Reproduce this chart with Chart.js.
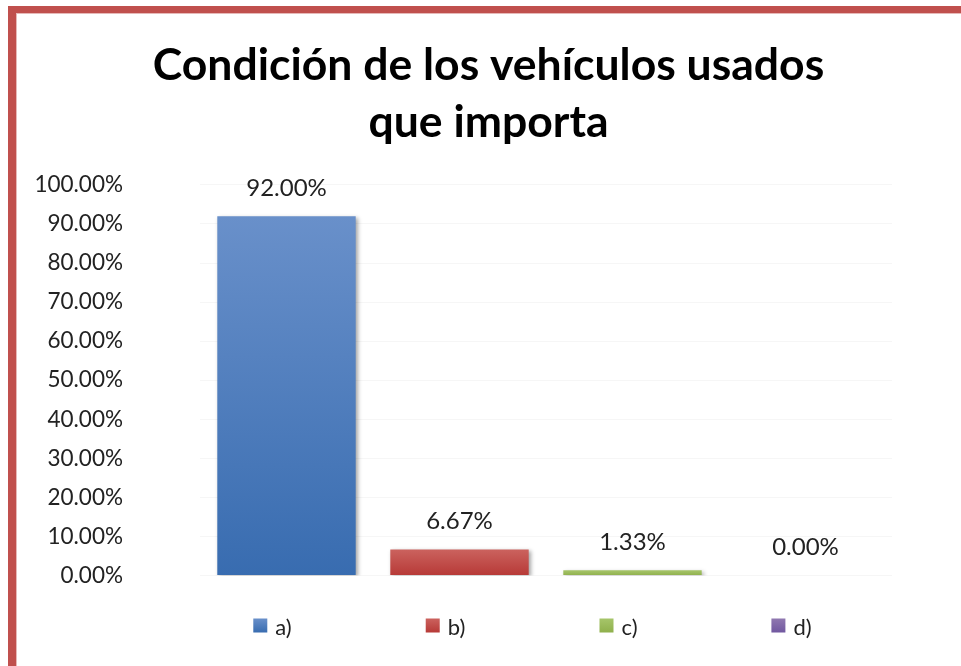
<!DOCTYPE html>
<html>
<head>
<meta charset="utf-8">
<script src="https://cdn.jsdelivr.net/npm/chart.js@4.4.1/dist/chart.umd.min.js"></script>
<style>
  html, body { margin: 0; padding: 0; background: #fff; overflow: hidden; }
  #marco {
    position: absolute; left: 8px; top: 6px; width: 1000px; height: 700px;
    border-left: 8px solid #c0504d; border-top: 7px solid #c0504d;
    box-shadow: inset 1px 1px 0 #e6b9b8;
  }
  #caja { position: absolute; left: 0; top: 0; width: 961px; height: 666px; }
</style>
</head>
<body>
<div id="marco"></div>
<div id="caja"><canvas id="graf" width="961" height="666"></canvas></div>
<script>
// Datos del gráfico
const categorias = ['a)', 'b)', 'c)', 'd)']
const porcentajes = [92.00, 6.67, 1.33, 0.00]
const ticksY = [0, 10, 20, 30, 40, 50, 60, 70, 80, 90, 100]

// colores (arriba, abajo) de cada barra
const coloresArriba = ['#6990ca', '#cb625e', '#a6c56a', '#9078b0']
const coloresAbajo = ['#386cb0', '#b73a37', '#8fb04c', '#7158a0']

const fuente = 'Lato, "Liberation Sans", sans-serif'
const colorTexto = '#222'

let ctx = document.getElementById('graf').getContext('2d')

function degradado(context) {
  const chart = context.chart
  const i = context.dataIndex
  if (!chart.chartArea || !chart.scales.y) return coloresAbajo[i]
  const y0 = chart.scales.y.getPixelForValue(porcentajes[i])
  const y1 = chart.scales.y.getPixelForValue(0)
  if (y1 - y0 < 1) return coloresAbajo[i]
  const g = chart.ctx.createLinearGradient(0, y0, 0, y1)
  g.addColorStop(0, coloresArriba[i])
  g.addColorStop(1, coloresAbajo[i])
  return g
}

// el título va un poco a la derecha, como en el original
const moverTitulo = {
  id: 'moverTitulo',
  afterLayout(chart) {
    if (chart.titleBlock) {
      chart.titleBlock.left += 60
    }
  }
}

// sombra de las barras
const sombra = {
  id: 'sombra',
  beforeDatasetsDraw(chart) {
    const c = chart.ctx
    c.save()
    c.shadowColor = 'rgba(0,0,0,0.35)'
    c.shadowBlur = 4
    c.shadowOffsetX = 2
    c.shadowOffsetY = 2
  },
  afterDatasetsDraw(chart) {
    chart.ctx.restore()
  }
}

// etiquetas de valor sobre las barras
const etiquetas = {
  id: 'etiquetas',
  afterDatasetsDraw(chart) {
    const c = chart.ctx
    const meta = chart.getDatasetMeta(0)
    c.save()
    c.font = '24px ' + fuente
    c.fillStyle = colorTexto
    c.textAlign = 'center'
    c.textBaseline = 'middle'
    meta.data.forEach((bar, i) => {
      c.fillText(porcentajes[i].toFixed(2) + '%', bar.x, bar.y - 28)
    })
    c.restore()
  }
}

// cuadros de color de la leyenda junto a las etiquetas del eje x
const cuadros = {
  id: 'cuadros',
  afterDraw(chart) {
    const c = chart.ctx
    const x = chart.scales.x
    c.save()
    c.font = '22px ' + fuente
    const yc = chart.chartArea.bottom + 39 + 11
    categorias.forEach((cat, i) => {
      const cx = x.getPixelForTick(i) - 3
      const w = c.measureText(cat).width
      const izq = cx - w / 2 - 8 - 14
      const g = c.createLinearGradient(0, yc - 7, 0, yc + 7)
      g.addColorStop(0, coloresArriba[i])
      g.addColorStop(1, coloresAbajo[i])
      c.fillStyle = g
      c.fillRect(izq, yc - 7, 14, 14)
    })
    c.restore()
  }
}

const config = {
  type: 'bar',
  data: {
    labels: categorias,
    datasets: [{
      label: 'Condición',
      data: porcentajes,
      backgroundColor: degradado,
      borderWidth: 0,
      barPercentage: 0.8,
      categoryPercentage: 1.0
    }]
  },
  options: {
    responsive: false,
    animation: false,
    layout: { padding: { left: 25, right: 69, top: 0, bottom: 21 } },
    plugins: {
      legend: { display: false },
      tooltip: { enabled: false },
      title: {
        display: true,
        text: ['Condición de los vehículos usados', 'que importa'],
        color: '#000',
        font: { family: fuente, size: 44.5, weight: 'bold', lineHeight: 1.28 },
        padding: { top: 37, bottom: 34 }
      }
    },
    scales: {
      x: {
        grid: { display: false, drawTicks: false },
        border: { display: false },
        afterFit: scale => { scale.height = 66 },
        ticks: {
          color: colorTexto,
          font: { family: fuente, size: 22 },
          padding: 39,
          labelOffset: -3
        }
      },
      y: {
        min: 0,
        max: 100,
        afterBuildTicks: scale => { scale.ticks = ticksY.map(v => ({ value: v })) },
        afterFit: scale => { scale.width = 175 },
        grid: { color: 'rgba(0,0,0,0.035)', drawTicks: false },
        border: { display: false },
        ticks: {
          color: colorTexto,
          font: { family: fuente, size: 22.5 },
          padding: 77,
          callback: v => v.toFixed(2) + '%'
        }
      }
    }
  },
  plugins: [moverTitulo, sombra, etiquetas, cuadros]
}

const grafico = new Chart(ctx, config)
</script>
</body>
</html>
